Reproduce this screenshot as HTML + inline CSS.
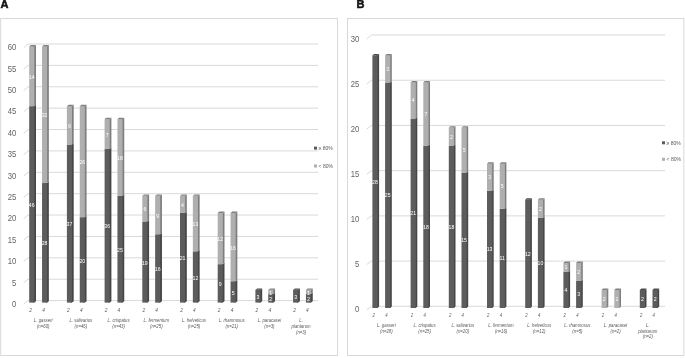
<!DOCTYPE html>
<html><head><meta charset="utf-8"><title>Figure</title>
<style>
html,body{margin:0;padding:0;background:#fff;}
svg{display:block;font-family:"Liberation Sans", sans-serif;}
</style></head><body>
<svg width="685" height="358" viewBox="0 0 685 358">
<text x="0.6" y="8.4" font-size="11" font-weight="bold" fill="#141414" stroke="#141414" stroke-width="0.55" stroke-linejoin="round">A</text>
<text x="356.6" y="8.4" font-size="11" font-weight="bold" fill="#141414" stroke="#141414" stroke-width="0.55" stroke-linejoin="round">B</text>
<rect x="0.7" y="18.5" width="336.8" height="337.0" fill="#fff" stroke="#d4d4d4" stroke-width="0.9"/>
<polyline points="23.60,47.90 28.00,44.00 318.00,44.00" fill="none" stroke="#d9d9d9" stroke-width="1"/>
<text transform="translate(16.40 50.10) scale(0.94 1)" font-size="8.2" fill="#636363" text-anchor="end">60</text>
<polyline points="23.60,69.25 28.00,65.38 318.00,65.38" fill="none" stroke="#d9d9d9" stroke-width="1"/>
<text transform="translate(16.40 71.50) scale(0.94 1)" font-size="8.2" fill="#636363" text-anchor="end">55</text>
<polyline points="23.60,90.60 28.00,86.77 318.00,86.77" fill="none" stroke="#d9d9d9" stroke-width="1"/>
<text transform="translate(16.40 92.90) scale(0.94 1)" font-size="8.2" fill="#636363" text-anchor="end">50</text>
<polyline points="23.60,111.95 28.00,108.15 318.00,108.15" fill="none" stroke="#d9d9d9" stroke-width="1"/>
<text transform="translate(16.40 114.30) scale(0.94 1)" font-size="8.2" fill="#636363" text-anchor="end">45</text>
<polyline points="23.60,133.30 28.00,129.53 318.00,129.53" fill="none" stroke="#d9d9d9" stroke-width="1"/>
<text transform="translate(16.40 135.70) scale(0.94 1)" font-size="8.2" fill="#636363" text-anchor="end">40</text>
<polyline points="23.60,154.65 28.00,150.91 318.00,150.91" fill="none" stroke="#d9d9d9" stroke-width="1"/>
<text transform="translate(16.40 157.10) scale(0.94 1)" font-size="8.2" fill="#636363" text-anchor="end">35</text>
<polyline points="23.60,176.00 28.00,172.30 318.00,172.30" fill="none" stroke="#d9d9d9" stroke-width="1"/>
<text transform="translate(16.40 178.50) scale(0.94 1)" font-size="8.2" fill="#636363" text-anchor="end">30</text>
<polyline points="23.60,197.35 28.00,193.68 318.00,193.68" fill="none" stroke="#d9d9d9" stroke-width="1"/>
<text transform="translate(16.40 199.90) scale(0.94 1)" font-size="8.2" fill="#636363" text-anchor="end">25</text>
<polyline points="23.60,218.70 28.00,215.06 318.00,215.06" fill="none" stroke="#d9d9d9" stroke-width="1"/>
<text transform="translate(16.40 221.30) scale(0.94 1)" font-size="8.2" fill="#636363" text-anchor="end">20</text>
<polyline points="23.60,240.05 28.00,236.45 318.00,236.45" fill="none" stroke="#d9d9d9" stroke-width="1"/>
<text transform="translate(16.40 242.70) scale(0.94 1)" font-size="8.2" fill="#636363" text-anchor="end">15</text>
<polyline points="23.60,261.40 28.00,257.83 318.00,257.83" fill="none" stroke="#d9d9d9" stroke-width="1"/>
<text transform="translate(16.40 264.10) scale(0.94 1)" font-size="8.2" fill="#636363" text-anchor="end">10</text>
<polyline points="23.60,282.75 28.00,279.21 318.00,279.21" fill="none" stroke="#d9d9d9" stroke-width="1"/>
<text transform="translate(16.40 285.50) scale(0.94 1)" font-size="8.2" fill="#636363" text-anchor="end">5</text>
<polyline points="23.60,304.10 28.00,300.60 318.00,300.60" fill="none" stroke="#d9d9d9" stroke-width="1"/>
<text transform="translate(16.40 306.90) scale(0.94 1)" font-size="8.2" fill="#636363" text-anchor="end">0</text>
<polygon points="32.80,302.60 34.30,302.60 36.00,301.25 36.00,104.83 34.30,106.18 32.80,106.18" fill="#464646"/>
<rect x="29.20" y="106.18" width="5.1" height="196.42" fill="#5c5c5c"/>
<text x="31.75" y="206.99" font-size="5.2" fill="#fff" text-anchor="middle">46</text>
<polygon points="32.80,106.18 34.30,106.18 36.00,104.83 36.00,45.05 34.30,46.40 32.80,46.40" fill="#7e7e7e"/>
<rect x="29.20" y="46.40" width="5.1" height="59.78" fill="#afafaf"/>
<polygon points="29.20,46.40 30.90,45.05 36.00,45.05 34.30,46.40" fill="#808080"/>
<text x="31.75" y="78.89" font-size="5.2" fill="#fff" text-anchor="middle">14</text>
<text transform="translate(30.70 311.80) scale(0.9 1)" font-size="5.3" fill="#595959" text-anchor="middle" font-style="italic">2</text>
<polygon points="45.65,302.60 47.15,302.60 48.85,301.25 48.85,181.69 47.15,183.04 45.65,183.04" fill="#464646"/>
<rect x="42.05" y="183.04" width="5.1" height="119.56" fill="#5c5c5c"/>
<text x="44.60" y="245.42" font-size="5.2" fill="#fff" text-anchor="middle">28</text>
<polygon points="45.65,183.04 47.15,183.04 48.85,181.69 48.85,45.05 47.15,46.40 45.65,46.40" fill="#7e7e7e"/>
<rect x="42.05" y="46.40" width="5.1" height="136.64" fill="#afafaf"/>
<polygon points="42.05,46.40 43.75,45.05 48.85,45.05 47.15,46.40" fill="#808080"/>
<text x="44.60" y="117.32" font-size="5.2" fill="#fff" text-anchor="middle">32</text>
<text transform="translate(43.55 311.80) scale(0.9 1)" font-size="5.3" fill="#595959" text-anchor="middle" font-style="italic">4</text>
<text transform="translate(43.20 322.10) scale(0.88 1)" font-size="4.9" fill="#595959" text-anchor="middle" font-style="italic">L. gasseri</text>
<text transform="translate(43.20 327.80) scale(0.88 1)" font-size="4.9" fill="#595959" text-anchor="middle" font-style="italic">(n=60)</text>
<polygon points="70.50,302.60 72.00,302.60 73.70,301.25 73.70,143.26 72.00,144.61 70.50,144.61" fill="#464646"/>
<rect x="66.90" y="144.61" width="5.1" height="157.99" fill="#5c5c5c"/>
<text x="69.45" y="226.21" font-size="5.2" fill="#fff" text-anchor="middle">37</text>
<polygon points="70.50,144.61 72.00,144.61 73.70,143.26 73.70,104.83 72.00,106.18 70.50,106.18" fill="#7e7e7e"/>
<rect x="66.90" y="106.18" width="5.1" height="38.43" fill="#afafaf"/>
<polygon points="66.90,106.18 68.60,104.83 73.70,104.83 72.00,106.18" fill="#808080"/>
<text x="69.45" y="128.00" font-size="5.2" fill="#fff" text-anchor="middle">9</text>
<text transform="translate(68.40 311.80) scale(0.9 1)" font-size="5.3" fill="#595959" text-anchor="middle" font-style="italic">2</text>
<polygon points="83.35,302.60 84.85,302.60 86.55,301.25 86.55,215.85 84.85,217.20 83.35,217.20" fill="#464646"/>
<rect x="79.75" y="217.20" width="5.1" height="85.40" fill="#5c5c5c"/>
<text x="82.30" y="262.50" font-size="5.2" fill="#fff" text-anchor="middle">20</text>
<polygon points="83.35,217.20 84.85,217.20 86.55,215.85 86.55,104.83 84.85,106.18 83.35,106.18" fill="#7e7e7e"/>
<rect x="79.75" y="106.18" width="5.1" height="111.02" fill="#afafaf"/>
<polygon points="79.75,106.18 81.45,104.83 86.55,104.83 84.85,106.18" fill="#808080"/>
<text x="82.30" y="164.29" font-size="5.2" fill="#fff" text-anchor="middle">26</text>
<text transform="translate(81.25 311.80) scale(0.9 1)" font-size="5.3" fill="#595959" text-anchor="middle" font-style="italic">4</text>
<text transform="translate(80.90 322.10) scale(0.88 1)" font-size="4.9" fill="#595959" text-anchor="middle" font-style="italic">L. salivarius</text>
<text transform="translate(80.90 327.80) scale(0.88 1)" font-size="4.9" fill="#595959" text-anchor="middle" font-style="italic">(n=46)</text>
<polygon points="108.20,302.60 109.70,302.60 111.40,301.25 111.40,147.53 109.70,148.88 108.20,148.88" fill="#464646"/>
<rect x="104.60" y="148.88" width="5.1" height="153.72" fill="#5c5c5c"/>
<text x="107.15" y="228.34" font-size="5.2" fill="#fff" text-anchor="middle">36</text>
<polygon points="108.20,148.88 109.70,148.88 111.40,147.53 111.40,117.64 109.70,118.99 108.20,118.99" fill="#7e7e7e"/>
<rect x="104.60" y="118.99" width="5.1" height="29.89" fill="#afafaf"/>
<polygon points="104.60,118.99 106.30,117.64 111.40,117.64 109.70,118.99" fill="#808080"/>
<text x="107.15" y="136.54" font-size="5.2" fill="#fff" text-anchor="middle">7</text>
<text transform="translate(106.10 311.80) scale(0.9 1)" font-size="5.3" fill="#595959" text-anchor="middle" font-style="italic">2</text>
<polygon points="121.05,302.60 122.55,302.60 124.25,301.25 124.25,194.50 122.55,195.85 121.05,195.85" fill="#464646"/>
<rect x="117.45" y="195.85" width="5.1" height="106.75" fill="#5c5c5c"/>
<text x="120.00" y="251.83" font-size="5.2" fill="#fff" text-anchor="middle">25</text>
<polygon points="121.05,195.85 122.55,195.85 124.25,194.50 124.25,117.64 122.55,118.99 121.05,118.99" fill="#7e7e7e"/>
<rect x="117.45" y="118.99" width="5.1" height="76.86" fill="#afafaf"/>
<polygon points="117.45,118.99 119.15,117.64 124.25,117.64 122.55,118.99" fill="#808080"/>
<text x="120.00" y="160.02" font-size="5.2" fill="#fff" text-anchor="middle">18</text>
<text transform="translate(118.95 311.80) scale(0.9 1)" font-size="5.3" fill="#595959" text-anchor="middle" font-style="italic">4</text>
<text transform="translate(118.60 322.10) scale(0.88 1)" font-size="4.9" fill="#595959" text-anchor="middle" font-style="italic">L. crispatus</text>
<text transform="translate(118.60 327.80) scale(0.88 1)" font-size="4.9" fill="#595959" text-anchor="middle" font-style="italic">(n=43)</text>
<polygon points="145.90,302.60 147.40,302.60 149.10,301.25 149.10,220.12 147.40,221.47 145.90,221.47" fill="#464646"/>
<rect x="142.30" y="221.47" width="5.1" height="81.13" fill="#5c5c5c"/>
<text x="144.85" y="264.64" font-size="5.2" fill="#fff" text-anchor="middle">19</text>
<polygon points="145.90,221.47 147.40,221.47 149.10,220.12 149.10,194.50 147.40,195.85 145.90,195.85" fill="#7e7e7e"/>
<rect x="142.30" y="195.85" width="5.1" height="25.62" fill="#afafaf"/>
<polygon points="142.30,195.85 144.00,194.50 149.10,194.50 147.40,195.85" fill="#808080"/>
<text x="144.85" y="211.26" font-size="5.2" fill="#fff" text-anchor="middle">6</text>
<text transform="translate(143.80 311.80) scale(0.9 1)" font-size="5.3" fill="#595959" text-anchor="middle" font-style="italic">2</text>
<polygon points="158.75,302.60 160.25,302.60 161.95,301.25 161.95,232.93 160.25,234.28 158.75,234.28" fill="#464646"/>
<rect x="155.15" y="234.28" width="5.1" height="68.32" fill="#5c5c5c"/>
<text x="157.70" y="271.04" font-size="5.2" fill="#fff" text-anchor="middle">16</text>
<polygon points="158.75,234.28 160.25,234.28 161.95,232.93 161.95,194.50 160.25,195.85 158.75,195.85" fill="#7e7e7e"/>
<rect x="155.15" y="195.85" width="5.1" height="38.43" fill="#afafaf"/>
<polygon points="155.15,195.85 156.85,194.50 161.95,194.50 160.25,195.85" fill="#808080"/>
<text x="157.70" y="217.67" font-size="5.2" fill="#fff" text-anchor="middle">9</text>
<text transform="translate(156.65 311.80) scale(0.9 1)" font-size="5.3" fill="#595959" text-anchor="middle" font-style="italic">4</text>
<text transform="translate(156.30 322.10) scale(0.88 1)" font-size="4.9" fill="#595959" text-anchor="middle" font-style="italic">L. fermentum</text>
<text transform="translate(156.30 327.80) scale(0.88 1)" font-size="4.9" fill="#595959" text-anchor="middle" font-style="italic">(n=25)</text>
<polygon points="183.60,302.60 185.10,302.60 186.80,301.25 186.80,211.58 185.10,212.93 183.60,212.93" fill="#464646"/>
<rect x="180.00" y="212.93" width="5.1" height="89.67" fill="#5c5c5c"/>
<text x="182.55" y="260.37" font-size="5.2" fill="#fff" text-anchor="middle">21</text>
<polygon points="183.60,212.93 185.10,212.93 186.80,211.58 186.80,194.50 185.10,195.85 183.60,195.85" fill="#7e7e7e"/>
<rect x="180.00" y="195.85" width="5.1" height="17.08" fill="#afafaf"/>
<polygon points="180.00,195.85 181.70,194.50 186.80,194.50 185.10,195.85" fill="#808080"/>
<text x="182.55" y="206.99" font-size="5.2" fill="#fff" text-anchor="middle">4</text>
<text transform="translate(181.50 311.80) scale(0.9 1)" font-size="5.3" fill="#595959" text-anchor="middle" font-style="italic">2</text>
<polygon points="196.45,302.60 197.95,302.60 199.65,301.25 199.65,250.01 197.95,251.36 196.45,251.36" fill="#464646"/>
<rect x="192.85" y="251.36" width="5.1" height="51.24" fill="#5c5c5c"/>
<text x="195.40" y="279.58" font-size="5.2" fill="#fff" text-anchor="middle">12</text>
<polygon points="196.45,251.36 197.95,251.36 199.65,250.01 199.65,194.50 197.95,195.85 196.45,195.85" fill="#7e7e7e"/>
<rect x="192.85" y="195.85" width="5.1" height="55.51" fill="#afafaf"/>
<polygon points="192.85,195.85 194.55,194.50 199.65,194.50 197.95,195.85" fill="#808080"/>
<text x="195.40" y="226.21" font-size="5.2" fill="#fff" text-anchor="middle">13</text>
<text transform="translate(194.35 311.80) scale(0.9 1)" font-size="5.3" fill="#595959" text-anchor="middle" font-style="italic">4</text>
<text transform="translate(194.00 322.10) scale(0.88 1)" font-size="4.9" fill="#595959" text-anchor="middle" font-style="italic">L. helveticus</text>
<text transform="translate(194.00 327.80) scale(0.88 1)" font-size="4.9" fill="#595959" text-anchor="middle" font-style="italic">(n=25)</text>
<polygon points="221.30,302.60 222.80,302.60 224.50,301.25 224.50,262.82 222.80,264.17 221.30,264.17" fill="#464646"/>
<rect x="217.70" y="264.17" width="5.1" height="38.43" fill="#5c5c5c"/>
<text x="220.25" y="285.99" font-size="5.2" fill="#fff" text-anchor="middle">9</text>
<polygon points="221.30,264.17 222.80,264.17 224.50,262.82 224.50,211.58 222.80,212.93 221.30,212.93" fill="#7e7e7e"/>
<rect x="217.70" y="212.93" width="5.1" height="51.24" fill="#afafaf"/>
<polygon points="217.70,212.93 219.40,211.58 224.50,211.58 222.80,212.93" fill="#808080"/>
<text x="220.25" y="241.15" font-size="5.2" fill="#fff" text-anchor="middle">12</text>
<text transform="translate(219.20 311.80) scale(0.9 1)" font-size="5.3" fill="#595959" text-anchor="middle" font-style="italic">2</text>
<polygon points="234.15,302.60 235.65,302.60 237.35,301.25 237.35,279.90 235.65,281.25 234.15,281.25" fill="#464646"/>
<rect x="230.55" y="281.25" width="5.1" height="21.35" fill="#5c5c5c"/>
<text x="233.10" y="294.53" font-size="5.2" fill="#fff" text-anchor="middle">5</text>
<polygon points="234.15,281.25 235.65,281.25 237.35,279.90 237.35,211.58 235.65,212.93 234.15,212.93" fill="#7e7e7e"/>
<rect x="230.55" y="212.93" width="5.1" height="68.32" fill="#afafaf"/>
<polygon points="230.55,212.93 232.25,211.58 237.35,211.58 235.65,212.93" fill="#808080"/>
<text x="233.10" y="249.69" font-size="5.2" fill="#fff" text-anchor="middle">16</text>
<text transform="translate(232.05 311.80) scale(0.9 1)" font-size="5.3" fill="#595959" text-anchor="middle" font-style="italic">4</text>
<text transform="translate(231.70 322.10) scale(0.88 1)" font-size="4.9" fill="#595959" text-anchor="middle" font-style="italic">L. rhamnosus</text>
<text transform="translate(231.70 327.80) scale(0.88 1)" font-size="4.9" fill="#595959" text-anchor="middle" font-style="italic">(n=21)</text>
<polygon points="259.00,302.60 260.50,302.60 262.20,301.25 262.20,288.44 260.50,289.79 259.00,289.79" fill="#464646"/>
<rect x="255.40" y="289.79" width="5.1" height="12.81" fill="#5c5c5c"/>
<polygon points="255.40,289.79 257.10,288.44 262.20,288.44 260.50,289.79" fill="#4c4c4c"/>
<text x="257.95" y="298.80" font-size="5.2" fill="#fff" text-anchor="middle">3</text>
<text transform="translate(256.90 311.80) scale(0.9 1)" font-size="5.3" fill="#595959" text-anchor="middle" font-style="italic">2</text>
<polygon points="271.85,302.60 273.35,302.60 275.05,301.25 275.05,292.71 273.35,294.06 271.85,294.06" fill="#464646"/>
<rect x="268.25" y="294.06" width="5.1" height="8.54" fill="#5c5c5c"/>
<text x="270.80" y="300.93" font-size="5.2" fill="#fff" text-anchor="middle">2</text>
<polygon points="271.85,294.06 273.35,294.06 275.05,292.71 275.05,288.44 273.35,289.79 271.85,289.79" fill="#7e7e7e"/>
<rect x="268.25" y="289.79" width="5.1" height="4.27" fill="#afafaf"/>
<polygon points="268.25,289.79 269.95,288.44 275.05,288.44 273.35,289.79" fill="#808080"/>
<text x="270.80" y="294.53" font-size="5.2" fill="#fff" text-anchor="middle">1</text>
<text transform="translate(269.75 311.80) scale(0.9 1)" font-size="5.3" fill="#595959" text-anchor="middle" font-style="italic">4</text>
<text transform="translate(269.40 322.10) scale(0.88 1)" font-size="4.9" fill="#595959" text-anchor="middle" font-style="italic">L. paracasei</text>
<text transform="translate(269.40 327.80) scale(0.88 1)" font-size="4.9" fill="#595959" text-anchor="middle" font-style="italic">(n=3)</text>
<polygon points="296.70,302.60 298.20,302.60 299.90,301.25 299.90,288.44 298.20,289.79 296.70,289.79" fill="#464646"/>
<rect x="293.10" y="289.79" width="5.1" height="12.81" fill="#5c5c5c"/>
<polygon points="293.10,289.79 294.80,288.44 299.90,288.44 298.20,289.79" fill="#4c4c4c"/>
<text x="295.65" y="298.80" font-size="5.2" fill="#fff" text-anchor="middle">3</text>
<text transform="translate(294.60 311.80) scale(0.9 1)" font-size="5.3" fill="#595959" text-anchor="middle" font-style="italic">2</text>
<polygon points="309.55,302.60 311.05,302.60 312.75,301.25 312.75,292.71 311.05,294.06 309.55,294.06" fill="#464646"/>
<rect x="305.95" y="294.06" width="5.1" height="8.54" fill="#5c5c5c"/>
<text x="308.50" y="300.93" font-size="5.2" fill="#fff" text-anchor="middle">2</text>
<polygon points="309.55,294.06 311.05,294.06 312.75,292.71 312.75,288.44 311.05,289.79 309.55,289.79" fill="#7e7e7e"/>
<rect x="305.95" y="289.79" width="5.1" height="4.27" fill="#afafaf"/>
<polygon points="305.95,289.79 307.65,288.44 312.75,288.44 311.05,289.79" fill="#808080"/>
<text x="308.50" y="294.53" font-size="5.2" fill="#fff" text-anchor="middle">1</text>
<text transform="translate(307.45 311.80) scale(0.9 1)" font-size="5.3" fill="#595959" text-anchor="middle" font-style="italic">4</text>
<text transform="translate(301.10 322.10) scale(0.88 1)" font-size="4.9" fill="#595959" text-anchor="middle" font-style="italic">L.</text>
<text transform="translate(301.10 327.80) scale(0.88 1)" font-size="4.9" fill="#595959" text-anchor="middle" font-style="italic">plantarum</text>
<text transform="translate(301.10 333.50) scale(0.88 1)" font-size="4.9" fill="#595959" text-anchor="middle" font-style="italic">(n=3)</text>
<rect x="314" y="146.6" width="3" height="3" fill="#5c5c5c"/>
<text transform="translate(318.60 149.90) scale(0.95 1)" font-size="5.3" fill="#595959">≥ 80%</text>
<rect x="314" y="164.5" width="3" height="3" fill="#afafaf"/>
<text transform="translate(318.60 167.80) scale(0.95 1)" font-size="5.3" fill="#595959">&lt; 80%</text>
<rect x="347.5" y="18.5" width="336.4" height="337.0" fill="#fff" stroke="#d4d4d4" stroke-width="0.9"/>
<polyline points="366.80,38.80 371.50,35.00 665.00,35.00" fill="none" stroke="#d9d9d9" stroke-width="1"/>
<text transform="translate(359.30 41.80) scale(0.94 1)" font-size="8.2" fill="#636363" text-anchor="end">30</text>
<polyline points="366.80,83.94 371.50,80.22 665.00,80.22" fill="none" stroke="#d9d9d9" stroke-width="1"/>
<text transform="translate(359.30 86.85) scale(0.94 1)" font-size="8.2" fill="#636363" text-anchor="end">25</text>
<polyline points="366.80,129.07 371.50,125.44 665.00,125.44" fill="none" stroke="#d9d9d9" stroke-width="1"/>
<text transform="translate(359.30 131.90) scale(0.94 1)" font-size="8.2" fill="#636363" text-anchor="end">20</text>
<polyline points="366.80,174.21 371.50,170.66 665.00,170.66" fill="none" stroke="#d9d9d9" stroke-width="1"/>
<text transform="translate(359.30 176.95) scale(0.94 1)" font-size="8.2" fill="#636363" text-anchor="end">15</text>
<polyline points="366.80,219.35 371.50,215.88 665.00,215.88" fill="none" stroke="#d9d9d9" stroke-width="1"/>
<text transform="translate(359.30 222.00) scale(0.94 1)" font-size="8.2" fill="#636363" text-anchor="end">10</text>
<polyline points="366.80,264.48 371.50,261.10 665.00,261.10" fill="none" stroke="#d9d9d9" stroke-width="1"/>
<text transform="translate(359.30 267.05) scale(0.94 1)" font-size="8.2" fill="#636363" text-anchor="end">5</text>
<polyline points="366.80,309.62 371.50,306.32 665.00,306.32" fill="none" stroke="#d9d9d9" stroke-width="1"/>
<text transform="translate(359.30 312.10) scale(0.94 1)" font-size="8.2" fill="#636363" text-anchor="end">0</text>
<polygon points="376.10,308.00 377.60,308.00 379.10,306.60 379.10,54.01 377.60,55.41 376.10,55.41" fill="#464646"/>
<rect x="372.40" y="55.41" width="5.2" height="252.59" fill="#5c5c5c"/>
<polygon points="372.40,55.41 373.90,54.01 379.10,54.01 377.60,55.41" fill="#4c4c4c"/>
<text x="375.00" y="183.61" font-size="5.2" fill="#fff" text-anchor="middle">28</text>
<text transform="translate(373.70 317.40) scale(0.9 1)" font-size="4.7" fill="#595959" text-anchor="middle" font-style="italic">2</text>
<polygon points="388.80,308.00 390.30,308.00 391.80,306.60 391.80,81.07 390.30,82.47 388.80,82.47" fill="#464646"/>
<rect x="385.10" y="82.47" width="5.2" height="225.53" fill="#5c5c5c"/>
<text x="387.70" y="197.14" font-size="5.2" fill="#fff" text-anchor="middle">25</text>
<polygon points="388.80,82.47 390.30,82.47 391.80,81.07 391.80,54.01 390.30,55.41 388.80,55.41" fill="#7e7e7e"/>
<rect x="385.10" y="55.41" width="5.2" height="27.06" fill="#afafaf"/>
<polygon points="385.10,55.41 386.60,54.01 391.80,54.01 390.30,55.41" fill="#808080"/>
<text x="387.70" y="70.84" font-size="5.2" fill="#fff" text-anchor="middle">3</text>
<text transform="translate(386.40 317.40) scale(0.9 1)" font-size="4.7" fill="#595959" text-anchor="middle" font-style="italic">4</text>
<text transform="translate(386.40 327.00) scale(0.88 1)" font-size="4.9" fill="#595959" text-anchor="middle" font-style="italic">L. gasseri</text>
<text transform="translate(386.40 332.70) scale(0.88 1)" font-size="4.9" fill="#595959" text-anchor="middle" font-style="italic">(n=28)</text>
<polygon points="414.30,308.00 415.80,308.00 417.30,306.60 417.30,117.16 415.80,118.56 414.30,118.56" fill="#464646"/>
<rect x="410.60" y="118.56" width="5.2" height="189.44" fill="#5c5c5c"/>
<text x="413.20" y="215.18" font-size="5.2" fill="#fff" text-anchor="middle">21</text>
<polygon points="414.30,118.56 415.80,118.56 417.30,117.16 417.30,81.07 415.80,82.47 414.30,82.47" fill="#7e7e7e"/>
<rect x="410.60" y="82.47" width="5.2" height="36.08" fill="#afafaf"/>
<polygon points="410.60,82.47 412.10,81.07 417.30,81.07 415.80,82.47" fill="#808080"/>
<text x="413.20" y="102.42" font-size="5.2" fill="#fff" text-anchor="middle">4</text>
<text transform="translate(411.90 317.40) scale(0.9 1)" font-size="4.7" fill="#595959" text-anchor="middle" font-style="italic">2</text>
<polygon points="427.00,308.00 428.50,308.00 430.00,306.60 430.00,144.22 428.50,145.62 427.00,145.62" fill="#464646"/>
<rect x="423.30" y="145.62" width="5.2" height="162.38" fill="#5c5c5c"/>
<text x="425.90" y="228.71" font-size="5.2" fill="#fff" text-anchor="middle">18</text>
<polygon points="427.00,145.62 428.50,145.62 430.00,144.22 430.00,81.07 428.50,82.47 427.00,82.47" fill="#7e7e7e"/>
<rect x="423.30" y="82.47" width="5.2" height="63.15" fill="#afafaf"/>
<polygon points="423.30,82.47 424.80,81.07 430.00,81.07 428.50,82.47" fill="#808080"/>
<text x="425.90" y="115.95" font-size="5.2" fill="#fff" text-anchor="middle">7</text>
<text transform="translate(424.60 317.40) scale(0.9 1)" font-size="4.7" fill="#595959" text-anchor="middle" font-style="italic">4</text>
<text transform="translate(424.60 327.00) scale(0.88 1)" font-size="4.9" fill="#595959" text-anchor="middle" font-style="italic">L. crispatus</text>
<text transform="translate(424.60 332.70) scale(0.88 1)" font-size="4.9" fill="#595959" text-anchor="middle" font-style="italic">(n=25)</text>
<polygon points="452.50,308.00 454.00,308.00 455.50,306.60 455.50,144.22 454.00,145.62 452.50,145.62" fill="#464646"/>
<rect x="448.80" y="145.62" width="5.2" height="162.38" fill="#5c5c5c"/>
<text x="451.40" y="228.71" font-size="5.2" fill="#fff" text-anchor="middle">18</text>
<polygon points="452.50,145.62 454.00,145.62 455.50,144.22 455.50,126.18 454.00,127.58 452.50,127.58" fill="#7e7e7e"/>
<rect x="448.80" y="127.58" width="5.2" height="18.04" fill="#afafaf"/>
<polygon points="448.80,127.58 450.30,126.18 455.50,126.18 454.00,127.58" fill="#808080"/>
<text x="451.40" y="138.50" font-size="5.2" fill="#fff" text-anchor="middle">2</text>
<text transform="translate(450.10 317.40) scale(0.9 1)" font-size="4.7" fill="#595959" text-anchor="middle" font-style="italic">2</text>
<polygon points="465.20,308.00 466.70,308.00 468.20,306.60 468.20,171.28 466.70,172.69 465.20,172.69" fill="#464646"/>
<rect x="461.50" y="172.69" width="5.2" height="135.31" fill="#5c5c5c"/>
<text x="464.10" y="242.24" font-size="5.2" fill="#fff" text-anchor="middle">15</text>
<polygon points="465.20,172.69 466.70,172.69 468.20,171.28 468.20,126.18 466.70,127.58 465.20,127.58" fill="#7e7e7e"/>
<rect x="461.50" y="127.58" width="5.2" height="45.11" fill="#afafaf"/>
<polygon points="461.50,127.58 463.00,126.18 468.20,126.18 466.70,127.58" fill="#808080"/>
<text x="464.10" y="152.03" font-size="5.2" fill="#fff" text-anchor="middle">5</text>
<text transform="translate(462.80 317.40) scale(0.9 1)" font-size="4.7" fill="#595959" text-anchor="middle" font-style="italic">4</text>
<text transform="translate(462.80 327.00) scale(0.88 1)" font-size="4.9" fill="#595959" text-anchor="middle" font-style="italic">L. salivarius</text>
<text transform="translate(462.80 332.70) scale(0.88 1)" font-size="4.9" fill="#595959" text-anchor="middle" font-style="italic">(n=20)</text>
<polygon points="490.70,308.00 492.20,308.00 493.70,306.60 493.70,189.33 492.20,190.73 490.70,190.73" fill="#464646"/>
<rect x="487.00" y="190.73" width="5.2" height="117.27" fill="#5c5c5c"/>
<text x="489.60" y="251.26" font-size="5.2" fill="#fff" text-anchor="middle">13</text>
<polygon points="490.70,190.73 492.20,190.73 493.70,189.33 493.70,162.26 492.20,163.66 490.70,163.66" fill="#7e7e7e"/>
<rect x="487.00" y="163.66" width="5.2" height="27.06" fill="#afafaf"/>
<polygon points="487.00,163.66 488.50,162.26 493.70,162.26 492.20,163.66" fill="#808080"/>
<text x="489.60" y="179.10" font-size="5.2" fill="#fff" text-anchor="middle">3</text>
<text transform="translate(488.30 317.40) scale(0.9 1)" font-size="4.7" fill="#595959" text-anchor="middle" font-style="italic">2</text>
<polygon points="503.40,308.00 504.90,308.00 506.40,306.60 506.40,207.37 504.90,208.77 503.40,208.77" fill="#464646"/>
<rect x="499.70" y="208.77" width="5.2" height="99.23" fill="#5c5c5c"/>
<text x="502.30" y="260.28" font-size="5.2" fill="#fff" text-anchor="middle">11</text>
<polygon points="503.40,208.77 504.90,208.77 506.40,207.37 506.40,162.26 504.90,163.66 503.40,163.66" fill="#7e7e7e"/>
<rect x="499.70" y="163.66" width="5.2" height="45.11" fill="#afafaf"/>
<polygon points="499.70,163.66 501.20,162.26 506.40,162.26 504.90,163.66" fill="#808080"/>
<text x="502.30" y="188.12" font-size="5.2" fill="#fff" text-anchor="middle">5</text>
<text transform="translate(501.00 317.40) scale(0.9 1)" font-size="4.7" fill="#595959" text-anchor="middle" font-style="italic">4</text>
<text transform="translate(501.00 327.00) scale(0.88 1)" font-size="4.9" fill="#595959" text-anchor="middle" font-style="italic">L. fermentum</text>
<text transform="translate(501.00 332.70) scale(0.88 1)" font-size="4.9" fill="#595959" text-anchor="middle" font-style="italic">(n=16)</text>
<polygon points="528.90,308.00 530.40,308.00 531.90,306.60 531.90,198.35 530.40,199.75 528.90,199.75" fill="#464646"/>
<rect x="525.20" y="199.75" width="5.2" height="108.25" fill="#5c5c5c"/>
<polygon points="525.20,199.75 526.70,198.35 531.90,198.35 530.40,199.75" fill="#4c4c4c"/>
<text x="527.80" y="255.77" font-size="5.2" fill="#fff" text-anchor="middle">12</text>
<text transform="translate(526.50 317.40) scale(0.9 1)" font-size="4.7" fill="#595959" text-anchor="middle" font-style="italic">2</text>
<polygon points="541.60,308.00 543.10,308.00 544.60,306.60 544.60,216.39 543.10,217.79 541.60,217.79" fill="#464646"/>
<rect x="537.90" y="217.79" width="5.2" height="90.21" fill="#5c5c5c"/>
<text x="540.50" y="264.79" font-size="5.2" fill="#fff" text-anchor="middle">10</text>
<polygon points="541.60,217.79 543.10,217.79 544.60,216.39 544.60,198.35 543.10,199.75 541.60,199.75" fill="#7e7e7e"/>
<rect x="537.90" y="199.75" width="5.2" height="18.04" fill="#afafaf"/>
<polygon points="537.90,199.75 539.40,198.35 544.60,198.35 543.10,199.75" fill="#808080"/>
<text x="540.50" y="210.67" font-size="5.2" fill="#fff" text-anchor="middle">2</text>
<text transform="translate(539.20 317.40) scale(0.9 1)" font-size="4.7" fill="#595959" text-anchor="middle" font-style="italic">4</text>
<text transform="translate(539.20 327.00) scale(0.88 1)" font-size="4.9" fill="#595959" text-anchor="middle" font-style="italic">L. helveticus</text>
<text transform="translate(539.20 332.70) scale(0.88 1)" font-size="4.9" fill="#595959" text-anchor="middle" font-style="italic">(n=12)</text>
<polygon points="567.10,308.00 568.60,308.00 570.10,306.60 570.10,270.52 568.60,271.92 567.10,271.92" fill="#464646"/>
<rect x="563.40" y="271.92" width="5.2" height="36.08" fill="#5c5c5c"/>
<text x="566.00" y="291.86" font-size="5.2" fill="#fff" text-anchor="middle">4</text>
<polygon points="567.10,271.92 568.60,271.92 570.10,270.52 570.10,261.50 568.60,262.89 567.10,262.89" fill="#7e7e7e"/>
<rect x="563.40" y="262.89" width="5.2" height="9.02" fill="#afafaf"/>
<polygon points="563.40,262.89 564.90,261.50 570.10,261.50 568.60,262.89" fill="#808080"/>
<text x="566.00" y="269.31" font-size="5.2" fill="#fff" text-anchor="middle">1</text>
<text transform="translate(564.70 317.40) scale(0.9 1)" font-size="4.7" fill="#595959" text-anchor="middle" font-style="italic">2</text>
<polygon points="579.80,308.00 581.30,308.00 582.80,306.60 582.80,279.54 581.30,280.94 579.80,280.94" fill="#464646"/>
<rect x="576.10" y="280.94" width="5.2" height="27.06" fill="#5c5c5c"/>
<text x="578.70" y="296.37" font-size="5.2" fill="#fff" text-anchor="middle">3</text>
<polygon points="579.80,280.94 581.30,280.94 582.80,279.54 582.80,261.50 581.30,262.89 579.80,262.89" fill="#7e7e7e"/>
<rect x="576.10" y="262.89" width="5.2" height="18.04" fill="#afafaf"/>
<polygon points="576.10,262.89 577.60,261.50 582.80,261.50 581.30,262.89" fill="#808080"/>
<text x="578.70" y="273.82" font-size="5.2" fill="#fff" text-anchor="middle">2</text>
<text transform="translate(577.40 317.40) scale(0.9 1)" font-size="4.7" fill="#595959" text-anchor="middle" font-style="italic">4</text>
<text transform="translate(577.40 327.00) scale(0.88 1)" font-size="4.9" fill="#595959" text-anchor="middle" font-style="italic">L. rhamnosus</text>
<text transform="translate(577.40 332.70) scale(0.88 1)" font-size="4.9" fill="#595959" text-anchor="middle" font-style="italic">(n=5)</text>
<polygon points="605.30,308.00 606.80,308.00 608.30,306.60 608.30,288.56 606.80,289.96 605.30,289.96" fill="#7e7e7e"/>
<rect x="601.60" y="289.96" width="5.2" height="18.04" fill="#afafaf"/>
<polygon points="601.60,289.96 603.10,288.56 608.30,288.56 606.80,289.96" fill="#808080"/>
<text x="604.20" y="300.88" font-size="5.2" fill="#fff" text-anchor="middle">2</text>
<text transform="translate(602.90 317.40) scale(0.9 1)" font-size="4.7" fill="#595959" text-anchor="middle" font-style="italic">2</text>
<polygon points="618.00,308.00 619.50,308.00 621.00,306.60 621.00,288.56 619.50,289.96 618.00,289.96" fill="#7e7e7e"/>
<rect x="614.30" y="289.96" width="5.2" height="18.04" fill="#afafaf"/>
<polygon points="614.30,289.96 615.80,288.56 621.00,288.56 619.50,289.96" fill="#808080"/>
<text x="616.90" y="300.88" font-size="5.2" fill="#fff" text-anchor="middle">2</text>
<text transform="translate(615.60 317.40) scale(0.9 1)" font-size="4.7" fill="#595959" text-anchor="middle" font-style="italic">4</text>
<text transform="translate(615.60 327.00) scale(0.88 1)" font-size="4.9" fill="#595959" text-anchor="middle" font-style="italic">L. paracasei</text>
<text transform="translate(615.60 332.70) scale(0.88 1)" font-size="4.9" fill="#595959" text-anchor="middle" font-style="italic">(n=2)</text>
<polygon points="643.50,308.00 645.00,308.00 646.50,306.60 646.50,288.56 645.00,289.96 643.50,289.96" fill="#464646"/>
<rect x="639.80" y="289.96" width="5.2" height="18.04" fill="#5c5c5c"/>
<polygon points="639.80,289.96 641.30,288.56 646.50,288.56 645.00,289.96" fill="#4c4c4c"/>
<text x="642.40" y="300.88" font-size="5.2" fill="#fff" text-anchor="middle">2</text>
<text transform="translate(641.10 317.40) scale(0.9 1)" font-size="4.7" fill="#595959" text-anchor="middle" font-style="italic">2</text>
<polygon points="656.20,308.00 657.70,308.00 659.20,306.60 659.20,288.56 657.70,289.96 656.20,289.96" fill="#464646"/>
<rect x="652.50" y="289.96" width="5.2" height="18.04" fill="#5c5c5c"/>
<polygon points="652.50,289.96 654.00,288.56 659.20,288.56 657.70,289.96" fill="#4c4c4c"/>
<text x="655.10" y="300.88" font-size="5.2" fill="#fff" text-anchor="middle">2</text>
<text transform="translate(653.80 317.40) scale(0.9 1)" font-size="4.7" fill="#595959" text-anchor="middle" font-style="italic">4</text>
<text transform="translate(647.80 327.00) scale(0.88 1)" font-size="4.9" fill="#595959" text-anchor="middle" font-style="italic">L.</text>
<text transform="translate(647.80 332.70) scale(0.88 1)" font-size="4.9" fill="#595959" text-anchor="middle" font-style="italic">plantarum</text>
<text transform="translate(647.80 338.40) scale(0.88 1)" font-size="4.9" fill="#595959" text-anchor="middle" font-style="italic">(n=2)</text>
<rect x="662" y="141.3" width="3" height="3" fill="#5c5c5c"/>
<text transform="translate(666.60 144.60) scale(0.95 1)" font-size="5.3" fill="#595959">≥ 80%</text>
<rect x="662" y="157.8" width="3" height="3" fill="#afafaf"/>
<text transform="translate(666.60 161.10) scale(0.95 1)" font-size="5.3" fill="#595959">&lt; 80%</text>
</svg>
</body></html>
